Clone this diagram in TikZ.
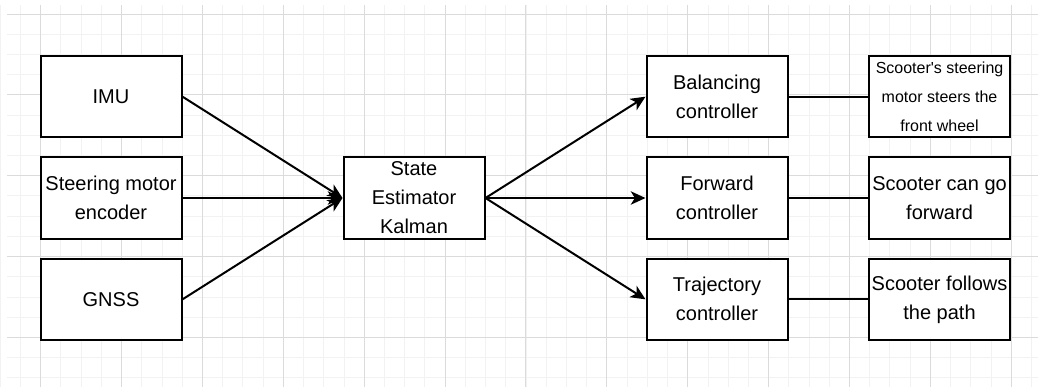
\documentclass[tikz,border=0pt]{standalone}
\usepackage{fontspec}
\setmainfont{Liberation Sans}
\newfontfamily\quotefont{Liberation Sans}
\usetikzlibrary{arrows.meta,positioning}

\tikzstyle{block} = [draw, line width=1.5pt, rectangle, fill=white, align=center, inner sep=0pt, minimum width=105.75pt, minimum height=61pt, font=\fontsize{15}{21.75}\selectfont, node distance=227.25pt]
\tikzstyle{outcome-block} = [block, node distance=166.9pt]
\tikzstyle{small-text} = [font=\fontsize{12}{21.75}\selectfont]
\tikzstyle{signal} = [line width=1.5pt, -{Stealth[length=11pt, width=10pt, inset=3pt]}]
\tikzstyle{link} = [line width=1.5pt]

\begin{document}
\begin{tikzpicture}[x=0.75pt, y=0.75pt]
	
	\useasboundingbox (0,0) rectangle (1038,-387);
	
	% background grid
	\foreach \k in {0,...,51}{% 
		\draw[gray!10, line width=0.75pt] ({0.3+20.22*\k},-5) -- ({0.3+20.22*\k},-387) ;}
	\foreach \k in {0,...,18}{% 
		\draw[gray!10, line width=0.75pt] (7,{-14-20.22*\k}) -- (1038,{-14-20.22*\k}) ;}
	\foreach \k in {0,...,12}{% 
		\draw[gray!28, line width=0.75pt] ({40.7+80.88*\k},-5) -- ({40.7+80.88*\k},-387) ;}
	\foreach \k in {0,...,4}{% 
		\draw[gray!28, line width=0.75pt] (7,{-14-80.88*\k}) -- (1038,{-14-80.88*\k}) ;}
	
	 \node [block] (estimator) at (414,-198) {State\\Estimator\\Kalman};
	 \node [block, left of=estimator] (encoder) {Steering motor\\encoder};
	 \node [block, node distance=76pt, above of=encoder] (IMU) {IMU};
	 \node [block, node distance=76pt, below of=encoder] (GNSS) {GNSS};
	 \node [block, right of=estimator] (forward) {Forward\\controller};
	 \node [block, node distance=76pt, above of=forward] (balancing) {Balancing\\controller};
	 \node [block, node distance=76pt, below of=forward] (trajectory) {Trajectory\\controller};
	 \node [outcome-block, right of=forward] (go-out) {Scooter can go\\forward};
	 \node [outcome-block, small-text, right of=balancing] (steer-out) {Scooter{\quotefont'}s steering\\motor steers the\\front wheel};
	 \node [outcome-block, right of=trajectory] (path-out) {Scooter follows\\the path};
	
	\foreach \src in {IMU,encoder,GNSS}{% 
		\draw[signal] (\src.east) -- (estimator.west) ;}
	
	\foreach \dst in {balancing,forward,trajectory}{% 
		\draw[signal] (estimator.east) -- (\dst.west) ;}
	
	\draw[link] (balancing.east) -- (steer-out.west) ;
	\draw[link] (forward.east) -- (go-out.west) ;
	\draw[link] (trajectory.east) -- (path-out.west) ;
	
	\end{tikzpicture}
\end{document}
